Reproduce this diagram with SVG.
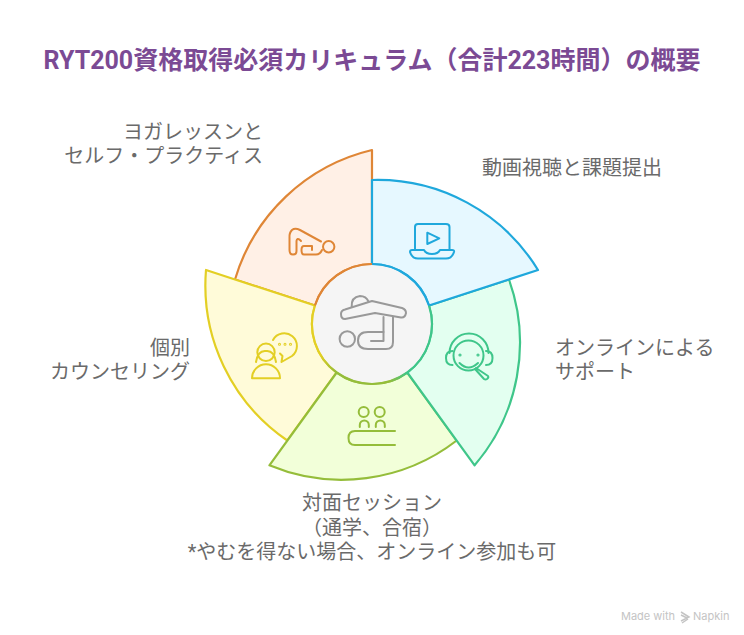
<svg xmlns="http://www.w3.org/2000/svg" width="744" height="635" viewBox="0 0 744 635">
<style>
.t{font-family:"Roboto","Noto Sans CJK JP",sans-serif;font-size:20px;fill:#6a6a6a}
.s{stroke-width:2.2;stroke-linejoin:round;stroke-linecap:round}
.i{fill:none;stroke-width:2;stroke-linejoin:round;stroke-linecap:round}
</style>
<defs>
<linearGradient id="g1" gradientUnits="userSpaceOnUse" x1="429" y1="305" x2="407" y2="372"><stop offset="0" stop-color="#3fc68a"/><stop offset="1" stop-color="#3fc68a"/></linearGradient>
<linearGradient id="g2" gradientUnits="userSpaceOnUse" x1="407" y1="372" x2="336" y2="372"><stop offset="0" stop-color="#3fc68a"/><stop offset="0.25" stop-color="#95bd3a"/><stop offset="1" stop-color="#95bd3a"/></linearGradient>
<linearGradient id="g3" gradientUnits="userSpaceOnUse" x1="336" y1="372" x2="314" y2="305"><stop offset="0" stop-color="#95bd3a"/><stop offset="0.3" stop-color="#e3cf24"/><stop offset="1" stop-color="#e3cf24"/></linearGradient>
</defs>
<rect width="744" height="635" fill="#fff"/>
<text x="372" y="69" text-anchor="middle" style="font-family:'Roboto','Noto Sans CJK JP',sans-serif;font-size:25px;font-weight:700;fill:#7b4a94">RYT200資格取得必須カリキュラム（合計223時間）の概要</text>
<g id="connectors">
<path id="sector-orange" class="s" fill="#fff0e6" stroke="#df8636" d="M372,264 L372,150 A188,188 0 0 0 235,279.500 L315,305.500 A60,60 0 0 1 372,264Z"/>
<path id="sector-yellow" class="s" fill="#fffbd9" stroke="#e3cf24" d="M314.900,305.500 L206,270 A188,188 0 0 0 287.300,440.500 L336.700,372.500 A60,60 0 0 1 314.900,305.500Z"/>
<path id="sector-lime" class="s" fill="#f2ffd9" stroke="#95bd3a" d="M336.700,372.500 L269.400,465.300 A188,188 0 0 0 456.700,440.500 L407.300,372.500 A60,60 0 0 1 336.700,372.500Z"/>
<path id="sector-green" class="s" fill="#e3fff0" stroke="#3fc68a" d="M407.300,372.500 L474.600,465.300 A188,188 0 0 0 509,279.500 L429,305.500 A60,60 0 0 1 407.300,372.500Z"/>
<path id="sector-blue" class="s" fill="#e6f8ff" stroke="#1fa8dc" d="M429,305.500 L538,270 A188,188 0 0 0 372,180 L372,264 A60,60 0 0 1 429,305.500Z"/>
</g>
<g id="node-center">
<circle cx="372" cy="324" r="59" fill="#f5f5f5"/>
<path d="M429,305.500 A60,60 0 0 1 407.300,372.500" fill="none" stroke="url(#g1)" stroke-width="2.200"/>
<path d="M407.300,372.500 A60,60 0 0 1 336.700,372.500" fill="none" stroke="url(#g2)" stroke-width="2.200"/>
<path d="M336.700,372.500 A60,60 0 0 1 314.900,305.500" fill="none" stroke="url(#g3)" stroke-width="2.200"/>
<path d="M314.900,305.500 A60,60 0 0 1 372,264" fill="none" stroke="#df8636" stroke-width="2.200"/>
<path d="M372,264 A60,60 0 0 1 429,305.500" fill="none" stroke="#1fa8dc" stroke-width="2.200"/>
<g class="i" stroke="#999">
<path d="M351.700,307 Q351,297 360,296 Q366,296 368.500,301.500"/>
<path d="M345,309.500 L372,301 L402,308 Q406,309.500 406,313 Q405,318 401,317.500 L375,313 L345,319 Q341,319 341,314 Q341,310.500 345,309.500Z"/>
<circle cx="347.300" cy="339" r="7.700"/>
<path d="M383.500,317 V332 H368 Q358,332 358,340.500 Q358,349 368,349 H386 Q393,349 393,342 V317"/>
<path d="M383.500,332 V341 H371"/>
</g>
</g>
<g id="node-yoga">
<g class="i" stroke="#df8636">
<path d="M321,241.500 L300,230 Q295,227.500 292,230 Q289,233 289.500,238 V250 Q289.500,254.500 293,254.500 Q296.500,254.500 296.500,251 V241 Q297,237.500 300,240 L301,241"/>
<path d="M322,250 Q320,254.500 316,254.500 H304 Q301.500,254.500 301.500,250 Q301.500,246 304,246 H312 V250"/>
<circle cx="328.700" cy="246.700" r="5.700"/>
</g>
<text class="t" x="263" y="139" text-anchor="end">ヨガレッスンと</text>
<text class="t" x="263" y="163" text-anchor="end">セルフ・プラクティス</text>
</g>
<g id="node-video">
<g class="i" stroke="#1fa8dc">
<path d="M415,250 V227 Q415,224 418,224 H446 Q449.500,224 449.500,227 V250"/>
<path d="M427.300,232.700 V244 L439.300,238.300Z"/>
<path d="M412,250 H424 Q426,254 432,254 Q438,254 440,250 H452 Q454.500,250 454,252 Q452,258.500 446,258.500 H418 Q412,258.500 410,252 Q410,250 412,250Z"/>
</g>
<text class="t" x="482" y="175">動画視聴と課題提出</text>
</g>
<g id="node-online">
<g class="i" stroke="#3fc68a">
<circle cx="468.500" cy="355.500" r="15"/>
<path d="M449.500,353 A19.500,19.500 0 0 1 488.500,353"/>
<path d="M452.500,351 Q446,351 446,358 Q446,365 452.500,365"/>
<path d="M486,351 Q492.500,351 492.500,358 Q492.500,365 486,365"/>
<path d="M459.500,363 Q468.500,372 478,363"/>
<path d="M476,368 L488,376 Q489,377.500 487,379 Q485.500,380 484,379 L475,369"/>
<circle cx="460" cy="355" r="0.600"/><circle cx="478" cy="355" r="0.600"/>
</g>
<text class="t" x="555" y="355">オンラインによる</text>
<text class="t" x="555" y="379">サポート</text>
</g>
<g id="node-inperson">
<g class="i" stroke="#95bd3a">
<circle cx="363.700" cy="412" r="5"/><circle cx="379.700" cy="412" r="5"/>
<path d="M359.800,427 V425 A4.500,4.500 0 0 1 368.800,425 V427"/>
<path d="M375.800,427 V425 A4.500,4.500 0 0 1 384.800,425 V427"/>
<path d="M395,431 H355 Q348.500,431 348.500,438 Q348.500,445 355,445 H395"/>
</g>
<text class="t" x="372" y="510" text-anchor="middle">対面セッション</text>
<text class="t" x="372" y="535" text-anchor="middle">（通学、合宿）</text>
<text class="t" x="372" y="559" text-anchor="middle">*やむを得ない場合、オンライン参加も可</text>
</g>
<g id="node-counsel">
<g class="i" stroke="#e3cf24">
<circle cx="266" cy="352.300" r="8.700"/>
<path d="M256,362 Q258,350 266,351 Q274,350 276,362"/>
<path d="M252,378.300 A14,14 0 0 1 280,378.300Z"/>
<path d="M273,340 A12.700,12.700 0 1 1 292,356 L281.500,362 L282.500,356 L280,353.500"/>
<circle cx="279.500" cy="344.300" r="0.500"/><circle cx="285" cy="344.300" r="0.500"/><circle cx="290.500" cy="344.300" r="0.500"/>
</g>
<text class="t" x="190" y="355" text-anchor="end">個別</text>
<text class="t" x="190" y="379" text-anchor="end">カウンセリング</text>
</g>
<g id="watermark">
<text x="621" y="620" style="font-family:'Inter','Roboto',sans-serif;font-size:11px;fill:#c4c4c4">Made with</text>
<path d="M681,612 L689,617 L681,621 M681,615 L687,618 M682,623 L688,619" fill="none" stroke="#c4c4c4" stroke-width="1.500"/>
<text x="693" y="620" style="font-family:'Inter','Roboto',sans-serif;font-size:11px;fill:#c4c4c4">Napkin</text>
</g>
</svg>
